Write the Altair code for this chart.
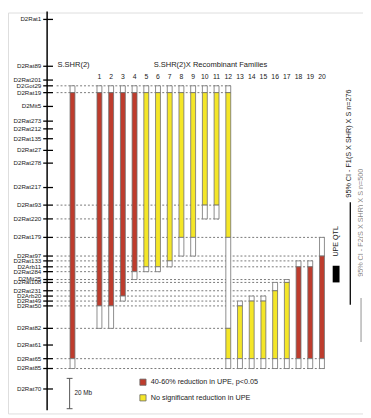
import altair as alt
import pandas as pd

FONT = "Liberation Sans"

# ---------------- data ----------------
markers = ["D2Rat1", "D2Rat89", "D2Rat201", "D2Got29", "D2Rat19", "D2Mit5", "D2Rat273",
           "D2Rat212", "D2Rat135", "D2Rat27", "D2Rat278", "D2Rat217", "D2Rat93", "D2Rat220",
           "D2Rat179", "D2Rat97", "D2Rat133", "D2Arb11", "D2Rat284", "D2Mit25", "D2Rat108",
           "D2Rat231", "D2Arb20", "D2Rat49", "D2Rat50", "D2Rat82", "D2Rat61", "D2Rat65",
           "D2Rat85", "D2Rat70"]
positions_mb = [5.2, 36.1, 45.2, 49.0, 53.5, 62.6, 72.3, 77.4, 83.9, 91.6, 100.0, 116.1,
                127.7, 136.8, 149.0, 161.3, 164.5, 168.4, 171.6, 176.8, 178.7, 184.2, 187.7,
                191.0, 194.2, 209.0, 220.0, 229.0, 235.5, 249.0]
chrom_length_mb = 263.0

columns = ["S.SHR(2)"] + [str(i) for i in range(1, 21)]
boundaries = [
    ["D2Got29", "D2Rat19", "D2Rat65", "D2Rat85"],    # S.SHR(2)
    ["D2Got29", "D2Rat19", "D2Rat50", "D2Rat82"],    # 1
    ["D2Got29", "D2Rat19", "D2Rat50", "D2Rat82"],    # 2
    ["D2Got29", "D2Rat19", "D2Arb20", "D2Rat49"],    # 3
    ["D2Got29", "D2Rat19", "D2Rat284", "D2Mit25"],   # 4
    ["D2Got29", "D2Rat19", "D2Arb11", "D2Rat284"],   # 5
    ["D2Got29", "D2Rat19", "D2Arb11", "D2Rat284"],   # 6
    ["D2Got29", "D2Rat19", "D2Rat133", "D2Arb11"],   # 7
    ["D2Got29", "D2Rat19", "D2Rat179", "D2Rat97"],   # 8
    ["D2Got29", "D2Rat19", "D2Rat179", "D2Rat97"],   # 9
    ["D2Got29", "D2Rat19", "D2Rat93", "D2Rat220"],   # 10
    ["D2Got29", "D2Rat19", "D2Rat93", "D2Rat220"],   # 11
    ["D2Got29", "D2Rat19", "D2Rat179", "D2Rat82", "D2Rat65", "D2Rat85"],  # 12
    ["D2Rat49", "D2Rat50", "D2Rat65", "D2Rat85"],    # 13
    ["D2Arb20", "D2Rat49", "D2Rat65", "D2Rat85"],    # 14
    ["D2Arb20", "D2Rat49", "D2Rat65", "D2Rat85"],    # 15
    ["D2Rat108", "D2Rat231", "D2Rat65", "D2Rat85"],  # 16
    ["D2Mit25", "D2Rat108", "D2Rat65", "D2Rat85"],   # 17
    ["D2Rat133", "D2Arb11", "D2Rat65", "D2Rat85"],   # 18
    ["D2Rat133", "D2Arb11", "D2Rat65", "D2Rat85"],   # 19
    ["D2Rat179", "D2Rat97", "D2Rat65", "D2Rat85"],   # 20
]
states = [
    ["open", "red", "open"],
    ["open", "red", "open"], ["open", "red", "open"], ["open", "red", "open"], ["open", "red", "open"],
    ["open", "yellow", "open"], ["open", "yellow", "open"], ["open", "yellow", "open"],
    ["open", "yellow", "open"], ["open", "yellow", "open"], ["open", "yellow", "open"],
    ["open", "yellow", "open"],
    ["open", "yellow", "open", "yellow", "open"],
    ["open", "yellow", "open"], ["open", "yellow", "open"], ["open", "yellow", "open"],
    ["open", "yellow", "open"], ["open", "yellow", "open"],
    ["open", "red", "open"], ["open", "red", "open"], ["open", "red", "open"],
]
state_labels = {"red": "40-60% reduction in UPE, p<0.05",
                "yellow": "No significant reduction in UPE",
                "open": "not informative"}
qtl_mb = [167.7, 178.7]
ci_f1_mb = [125.8, 193.5]
ci_f2_mb = [189.0, 218.0]
scale_bar_start_mb = 242.0
scale_bar_len_mb = 20.0

# ---------------- layout helpers ----------------
SHR_POS = -1.3          # horizontal slot of the parental strain column
col_pos = [SHR_POS] + list(range(1, 21))
pos_of = dict(zip(markers, positions_mb))

xs = alt.Scale(domain=[-6.389, 23.085], nice=False, zero=False)
ys = alt.Scale(domain=[0.645, 265.16], nice=False, zero=False, reverse=True)

seg_rows = []
for c, x, b, s in zip(columns, col_pos, boundaries, states):
    for i, st in enumerate(s):
        seg_rows.append({"col": c, "x": x, "y": pos_of[b[i]], "y2": pos_of[b[i + 1]],
                         "state": state_labels[st]})
segs = pd.DataFrame(seg_rows)

line_end = {}
for x, b in zip(col_pos, boundaries):
    for m in b:
        line_end[m] = max(line_end.get(m, -99), x)
lines = pd.DataFrame([{"m": m, "y": pos_of[m], "x0": -2.654, "x1": xe + 0.25}
                      for m, xe in line_end.items()])

mk = pd.DataFrame({"marker": markers, "y": positions_mb})
fam = pd.DataFrame({"label": columns[1:], "x": col_pos[1:]})

# ---------------- layers ----------------
dashed = alt.Chart(lines).mark_rule(color="#555", strokeWidth=0.8, strokeDash=[2, 2]).encode(
    x=alt.X("x0:Q", scale=xs, axis=None), x2="x1:Q", y=alt.Y("y:Q", scale=ys, axis=None))

axis_line = alt.Chart(pd.DataFrame({"a": [0.0], "b": [chrom_length_mb]})).mark_rule(
    color="black", strokeWidth=1.5).encode(
    x=alt.value(40), y=alt.Y("a:Q", scale=ys, axis=None), y2="b:Q")

ticks = alt.Chart(mk).mark_rule(color="black", strokeWidth=1.3).encode(
    x=alt.value(36), x2=alt.value(46), y=alt.Y("y:Q", scale=ys, axis=None))

labels = alt.Chart(mk).mark_text(align="right", baseline="middle", font=FONT,
                                 fontSize=6.3, color="#222").encode(
    x=alt.value(34), y=alt.Y("y:Q", scale=ys, axis=None), text="marker:N")

bars = alt.Chart(segs).mark_bar(size=5, stroke="#707070", strokeWidth=0.8).encode(
    x=alt.X("x:Q", scale=xs, axis=None),
    y=alt.Y("y:Q", scale=ys, axis=None), y2="y2:Q",
    color=alt.Color("state:N",
                    scale=alt.Scale(domain=[state_labels["red"], state_labels["yellow"], state_labels["open"]],
                                    range=["#be3c2d", "#f4e628", "#ffffff"]),
                    legend=alt.Legend(values=[state_labels["red"], state_labels["yellow"]],
                                      orient="none", legendX=134, legendY=374, title=None,
                                      symbolType="square", symbolSize=40,
                                      symbolStrokeColor="#666", symbolStrokeWidth=0.8,
                                      labelFont=FONT, labelFontSize=7.4, labelColor="#222",
                                      labelOffset=4, rowPadding=6, padding=0)))

fam_labels = alt.Chart(fam).mark_text(baseline="middle", font=FONT, fontSize=7, color="#222").encode(
    x=alt.X("x:Q", scale=xs, axis=None), y=alt.value(66), text="label:N")

hdr1 = alt.Chart(pd.DataFrame({"t": ["S.SHR(2)"]})).mark_text(
    baseline="middle", font=FONT, fontSize=7.7, color="#222").encode(
    x=alt.value(67), y=alt.value(54), text="t:N")
hdr2 = alt.Chart(pd.DataFrame({"t": ["S.SHR(2)X Recombinant Families"]})).mark_text(
    baseline="middle", font=FONT, fontSize=7.7, color="#222").encode(
    x=alt.value(207), y=alt.value(54), text="t:N")

sb = pd.DataFrame({"a": [scale_bar_start_mb], "b": [scale_bar_start_mb + scale_bar_len_mb],
                   "m": [scale_bar_start_mb + scale_bar_len_mb / 2], "t": ["20 Mb"]})
sb_line = alt.Chart(sb).mark_rule(color="#555", strokeWidth=1).encode(
    x=alt.value(63), y=alt.Y("a:Q", scale=ys, axis=None), y2="b:Q")
sb_cap1 = alt.Chart(sb).mark_rule(color="#555", strokeWidth=1).encode(
    x=alt.value(60), x2=alt.value(66), y=alt.Y("a:Q", scale=ys, axis=None))
sb_cap2 = alt.Chart(sb).mark_rule(color="#555", strokeWidth=1).encode(
    x=alt.value(60), x2=alt.value(66), y=alt.Y("b:Q", scale=ys, axis=None))
sb_text = alt.Chart(sb).mark_text(align="left", baseline="middle", font=FONT,
                                  fontSize=6.5, color="#222").encode(
    x=alt.value(68), y=alt.Y("m:Q", scale=ys, axis=None), text="t:N")

qtl = pd.DataFrame({"a": [qtl_mb[0]], "b": [qtl_mb[1]]})
qtl_rect = alt.Chart(qtl).mark_rect(color="black").encode(
    x=alt.value(332), x2=alt.value(339), y=alt.Y("a:Q", scale=ys, axis=None), y2="b:Q")
qtl_text = alt.Chart(pd.DataFrame({"t": ["UPE QTL"]})).mark_text(
    angle=270, baseline="middle", font=FONT, fontSize=7.3, color="#222").encode(
    x=alt.value(335), y=alt.value(234), text="t:N")

ci1 = pd.DataFrame({"a": [ci_f1_mb[0]], "b": [ci_f1_mb[1]]})
ci1_line = alt.Chart(ci1).mark_rule(color="black", strokeWidth=1.3).encode(
    x=alt.value(350), y=alt.Y("a:Q", scale=ys, axis=None), y2="b:Q")
ci1_text = alt.Chart(pd.DataFrame({"t": ["95% CI - F1(S X SHR) X S n=276"]})).mark_text(
    angle=270, baseline="middle", font=FONT, fontSize=7.4, color="#222").encode(
    x=alt.value(349), y=alt.value(134), text="t:N")

ci2 = pd.DataFrame({"a": [ci_f2_mb[0]], "b": [ci_f2_mb[1]]})
ci2_line = alt.Chart(ci2).mark_rule(color="#aaa", strokeWidth=1.3).encode(
    x=alt.value(361), y=alt.Y("a:Q", scale=ys, axis=None), y2="b:Q")
ci2_text = alt.Chart(pd.DataFrame({"t": ["95% CI - F2(S X SHR) X S n=500"]})).mark_text(
    angle=270, baseline="middle", font=FONT, fontSize=7.4, color="#888").encode(
    x=alt.value(361), y=alt.value(215), text="t:N")

chart = alt.layer(
    dashed, axis_line, ticks, labels, bars, fam_labels, hdr1, hdr2,
    sb_line, sb_cap1, sb_cap2, sb_text, qtl_rect, qtl_text,
    ci1_line, ci1_text, ci2_line, ci2_text
).properties(
    width=363, height=410, padding=0,
    autosize=alt.AutoSizeParams(type="none")
).configure_view(strokeWidth=0).configure(background="white")

chart.save("out.html", embed_options={"renderer": "svg", "actions": False})
